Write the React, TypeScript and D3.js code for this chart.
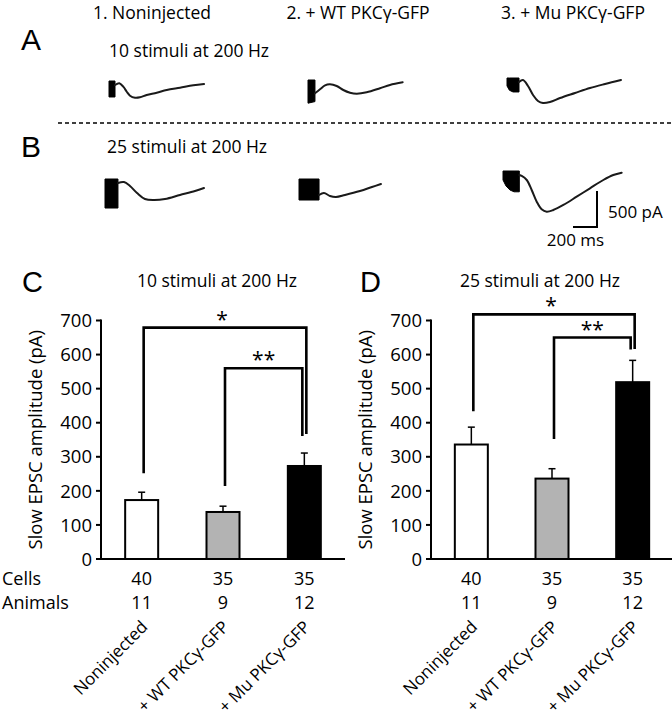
import React from 'react';
import * as d3 from 'd3';

// ---------- data ----------
const groups = ['Noninjected', '+ WT PKCγ-GFP', '+ Mu PKCγ-GFP'];
const headerLabels = ['1. Noninjected', '2. + WT PKCγ-GFP', '3. + Mu PKCγ-GFP'];
const yTicks = [0, 100, 200, 300, 400, 500, 600, 700];
const cellCounts = [40, 35, 35];
const animalCounts = [11, 9, 12];

const means10 = [173, 138, 273];
const sems10 = [23, 17, 38];
const means25 = [336, 236, 519];
const sems25 = [51, 29, 64];

// brackets: [fromGroup, toGroup, topValue, leftLegEnd, rightLegEnd, label]
const brackets10: [number, number, number, number, number, string][] = [
  [0, 2, 679, 252, 367, '*'],
  [1, 2, 560, 214, 361, '**'],
];
const brackets25: [number, number, number, number, number, string][] = [
  [0, 2, 718, 434, 616, '*'],
  [1, 2, 650, 352, 615, '**'],
];

// traces: [ms, pA]
const traceA1: [number, number][] = [[50, -56], [86, -32], [119, -79], [148, -149], [175, -204], [217, -232], [258, -226], [314, -194], [398, -163], [481, -125], [592, -93], [703, -60], [792, -42]];
const traceA2: [number, number][] = [[58, -185], [100, -129], [142, -74], [183, -60], [239, -83], [294, -139], [350, -176], [406, -190], [489, -171], [600, -115], [683, -69], [789, -32]];
const traceA3: [number, number][] = [[100, -56], [133, -28], [175, -111], [217, -236], [258, -319], [300, -347], [358, -333], [442, -278], [567, -208], [692, -139], [817, -83], [950, -28]];
const traceB1: [number, number][] = [[108, -56], [158, -42], [208, -97], [267, -194], [333, -278], [408, -292], [500, -278], [625, -222], [750, -167], [825, -125]];
const traceB2: [number, number][] = [[167, -222], [208, -194], [258, -236], [308, -250], [383, -222], [508, -167], [608, -111], [683, -69]];
const traceB3: [number, number][] = [[136, -56], [156, -69], [198, -125], [239, -264], [281, -426], [322, -532], [364, -565], [419, -542], [503, -472], [614, -357], [725, -240], [836, -125], [919, -56], [989, -24]];

// stimulus artifacts: [ms, top pA, bottom pA]
const artA1: [number, number, number][] = [[0, 0, -222], [50, 0, -222]];
const artA2: [number, number, number][] = [[0, 0, -322], [58, 0, -300]];
const artA3: [number, number, number][] = [[0, 0, -110], [20, 0, -170], [50, 0, -194], [100, 0, -194]];
const artB1: [number, number, number][] = [[0, 0, -403], [108, 0, -403]];
const artB2: [number, number, number][] = [[0, 0, -292], [167, 0, -292]];
const artB3: [number, number, number][] = [[0, 0, -125], [25, 0, -208], [58, 0, -264], [92, 0, -289], [136, 0, -289]];

const scaleBarMs = 200;
const scaleBarPA = 500;

// ---------- layout ----------
const FONT = "'Open Sans', 'Noto Sans', sans-serif";
const PANEL_FONT = "'Liberation Sans', Arial, sans-serif";
const fills = ['#ffffff', '#b3b3b3', '#000000'];

const xT = d3.scaleLinear().domain([0, 200]).range([0, 24]);
const yI = d3.scaleLinear().domain([0, 500]).range([0, 36]);

function Trace({ ox, oy, pts, art }: { ox: number; oy: number; pts: [number, number][]; art: [number, number, number][] }) {
  const line = d3.line<[number, number]>()
    .x(d => ox + xT(d[0]))
    .y(d => oy - yI(d[1]))
    .curve(d3.curveCatmullRom);
  const area = d3.area<[number, number, number]>()
    .x(d => ox + xT(d[0]))
    .y0(d => oy - yI(d[1]))
    .y1(d => oy - yI(d[2]));
  return (
    <g>
      <path d={area(art) || ''} fill="#000" stroke="#000" strokeWidth={1} />
      <path d={line(pts) || ''} fill="none" stroke="#1a1a1a" strokeWidth={2} strokeLinejoin="round" strokeLinecap="round" />
    </g>
  );
}

const yScale = d3.scaleLinear().domain([0, 700]).range([559, 320.5]);

function BarPanel({ x0, x1, means, sems, brs, title, titleX, letter, letterX, labelX }: any) {
  const xs = d3.scalePoint<string>().domain(groups).range([x0, x1]).padding(0.5);
  const bw = 33;
  return (
    <g fontFamily={FONT}>
      <text x={letterX} y={292} fontFamily={PANEL_FONT} fontSize={29}>{letter}</text>
      <text x={titleX} y={287} fontSize={17.5} textAnchor="middle">{title}</text>
      {/* y axis */}
      <line x1={x0} x2={x0} y1={yScale(700) - 1} y2={yScale(0)} stroke="#000" strokeWidth={2} />
      {yTicks.map(t => (
        <g key={t}>
          <line x1={x0 - 5} x2={x0} y1={yScale(t)} y2={yScale(t)} stroke="#000" strokeWidth={2} />
          <text x={x0 - 9} y={yScale(t)} dy="0.36em" textAnchor="end" fontSize={18.5}>{t}</text>
        </g>
      ))}
      <text transform={`translate(${labelX},${(yScale(0) + yScale(700)) / 2}) rotate(-90)`} textAnchor="middle" fontSize={18.5}>Slow EPSC amplitude (pA)</text>
      {/* bars */}
      {groups.map((g, i) => {
        const cx = xs(g) as number;
        return (
          <g key={g}>
            <line x1={cx} x2={cx} y1={yScale(means[i])} y2={yScale(means[i] + sems[i])} stroke="#000" strokeWidth={1.5} />
            <line x1={cx - 3.5} x2={cx + 3.5} y1={yScale(means[i] + sems[i])} y2={yScale(means[i] + sems[i])} stroke="#000" strokeWidth={1.5} />
            <rect x={cx - bw / 2} y={yScale(means[i])} width={bw} height={yScale(0) - yScale(means[i])} fill={fills[i]} stroke="#000" strokeWidth={2} />
          </g>
        );
      })}
      {/* x axis */}
      <line x1={x0} x2={x1} y1={yScale(0)} y2={yScale(0)} stroke="#000" strokeWidth={2} />
      {/* brackets */}
      {brs.map((b: any, k: number) => {
        const [f, t, top, le, re, lab] = b;
        const lx = (xs(groups[f]) as number) + 2;
        const rx = (xs(groups[t]) as number) + (k === 0 ? 2 : -2);
        return (
          <g key={k}>
            <path d={`M${lx},${yScale(le)}V${yScale(top)}H${rx}V${yScale(re)}`} fill="none" stroke="#000" strokeWidth={2.6} />
            <text x={(lx + rx) / 2 - (k === 0 ? 3 : 0)} y={yScale(top) - 1} textAnchor="middle" fontSize={21}>{lab}</text>
          </g>
        );
      })}
      {/* counts */}
      {groups.map((g, i) => (
        <g key={'n' + g}>
          <text x={xs(g) as number} y={585} textAnchor="middle" fontSize={18}>{cellCounts[i]}</text>
          <text x={xs(g) as number} y={609} textAnchor="middle" fontSize={18}>{animalCounts[i]}</text>
          <text transform={`translate(${(xs(g) as number) + 7},${628}) rotate(-45)`} textAnchor="end" fontSize={17}>{g}</text>
        </g>
      ))}
    </g>
  );
}

export default function App() {
  const headerX = [152, 358, 573];
  return (
    <svg width={672} height={719} style={{ position: 'absolute', left: 0, top: 0, background: '#fff' }}>
      <rect width={672} height={719} fill="#fff" />
      <g fontFamily={FONT} fill="#000">
        {headerLabels.map((h, i) => (
          <text key={h} x={headerX[i]} y={19} textAnchor="middle" fontSize={17.5}>{h}</text>
        ))}
        <text x={21} y={50} fontFamily={PANEL_FONT} fontSize={30}>A</text>
        <text x={109} y={57} fontSize={17.5}>10 stimuli at 200 Hz</text>
        <line x1={58} x2={672} y1={123} y2={123} stroke="#000" strokeWidth={1.5} strokeDasharray="4,3" />
        <text x={21} y={157} fontFamily={PANEL_FONT} fontSize={30}>B</text>
        <text x={107} y={153} fontSize={17.5}>25 stimuli at 200 Hz</text>
        <text x={608} y={218} fontSize={17}>500 pA</text>
        <text x={575.5} y={246} textAnchor="middle" fontSize={17}>200 ms</text>
        <text x={2} y={585} fontSize={18}>Cells</text>
        <text x={2} y={609} fontSize={18}>Animals</text>
      </g>
      <Trace ox={109} oy={81} pts={traceA1} art={artA1} />
      <Trace ox={308} oy={80} pts={traceA2} art={artA2} />
      <Trace ox={507} oy={78} pts={traceA3} art={artA3} />
      <Trace ox={105} oy={179} pts={traceB1} art={artB1} />
      <Trace ox={299} oy={179} pts={traceB2} art={artB2} />
      <Trace ox={503} oy={171} pts={traceB3} art={artB3} />
      {/* scale bar */}
      <path d={`M${597 - xT(scaleBarMs)},227H597V${227 - yI(scaleBarPA)}`} fill="none" stroke="#000" strokeWidth={2} />
      <BarPanel x0={101} x1={345} means={means10} sems={sems10} brs={brackets10} title="10 stimuli at 200 Hz" titleX={217} letter="C" letterX={22} labelX={42} />
      <BarPanel x0={431} x1={673} means={means25} sems={sems25} brs={brackets25} title="25 stimuli at 200 Hz" titleX={540} letter="D" letterX={360} labelX={372} />
    </svg>
  );
}
